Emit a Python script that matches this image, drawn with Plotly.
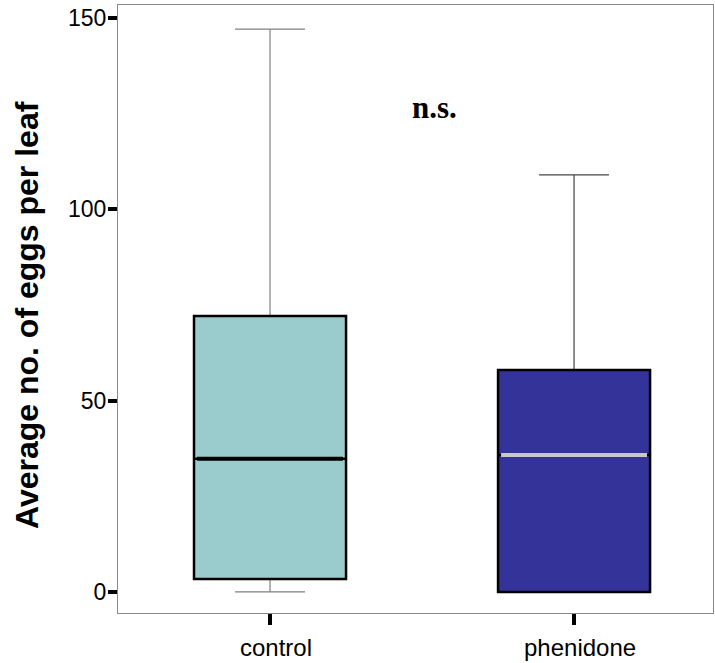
import plotly.graph_objects as go

groups = ["control", "phenidone"]
xpos = [0, 1]
lower_whisker = [0.0, 0.0]
q1 = [3.4, 0.0]
median = [34.8, 35.8]
q3 = [72.1, 58.0]
upper_whisker = [147.1, 109.0]
fill_colors = ["#9BCCCD", "#333399"]
median_colors = ["#000000", "#C8C8C8"]
whisker_colors = ["#808080", "#444444"]

fig = go.Figure()
BW = 0.5
for i, g in enumerate(groups):
    # whiskers
    fig.add_trace(go.Box(x=[xpos[i]], q1=[q1[i]], median=[median[i]], q3=[q3[i]],
                         lowerfence=[lower_whisker[i]], upperfence=[upper_whisker[i]],
                         width=BW, whiskerwidth=0.46, fillcolor="rgba(0,0,0,0)",
                         line=dict(color=whisker_colors[i], width=1.2), showlegend=False,
                         hoverinfo="skip"))
    # box
    fig.add_trace(go.Box(x=[xpos[i]], q1=[q1[i]], median=[median[i]], q3=[q3[i]],
                         lowerfence=[q1[i]], upperfence=[q3[i]],
                         width=BW, whiskerwidth=0, fillcolor=fill_colors[i],
                         line=dict(color="#000000", width=2.5), showlegend=False,
                         name=g))
    # median line
    fig.add_trace(go.Box(x=[xpos[i]], q1=[median[i]], median=[median[i]], q3=[median[i]],
                         lowerfence=[median[i]], upperfence=[median[i]],
                         width=BW - 0.02, whiskerwidth=0, fillcolor="rgba(0,0,0,0)",
                         line=dict(color=median_colors[i], width=4), showlegend=False,
                         hoverinfo="skip"))

fig.add_annotation(x=0.54, y=126.5, xref="x", yref="y", text="<b>n.s.</b>",
                   showarrow=False, font=dict(family="Liberation Serif", size=31, color="black"))

fig.add_annotation(x=-0.153, y=0.49, xref="paper", yref="paper",
                   xanchor="center", yanchor="middle", textangle=-90, showarrow=False,
                   text="<b>Average no. of eggs per leaf</b>",
                   font=dict(size=32, color="black"))

fig.update_layout(
    width=715, height=663,
    margin=dict(l=118, r=2, t=5, b=50),
    plot_bgcolor="white", paper_bgcolor="white",
    boxmode="overlay",
    font=dict(family="Liberation Sans, Arial", color="black"),
)
fig.update_xaxes(range=[-0.5, 1.457], tickvals=xpos, ticktext=groups,
                 showgrid=False, zeroline=False, showline=True, linecolor="#8a8a8a",
                 linewidth=1, mirror=True, ticks="outside", ticklen=11, tickwidth=4,
                 tickcolor="black", tickfont=dict(size=24, color="black"),
                 ticklabelshift=6, ticklabelstandoff=2)
fig.update_yaxes(range=[-5.5, 153.4], tickvals=[0, 50, 100, 150],
                 showgrid=False, zeroline=False, showline=True, linecolor="#8a8a8a",
                 linewidth=1, mirror=True, ticks="outside", ticklen=9, tickwidth=4,
                 tickcolor="black", tickfont=dict(size=23, color="black"),
                 ticklabelstandoff=-3)
fig.write_html("out.html")
